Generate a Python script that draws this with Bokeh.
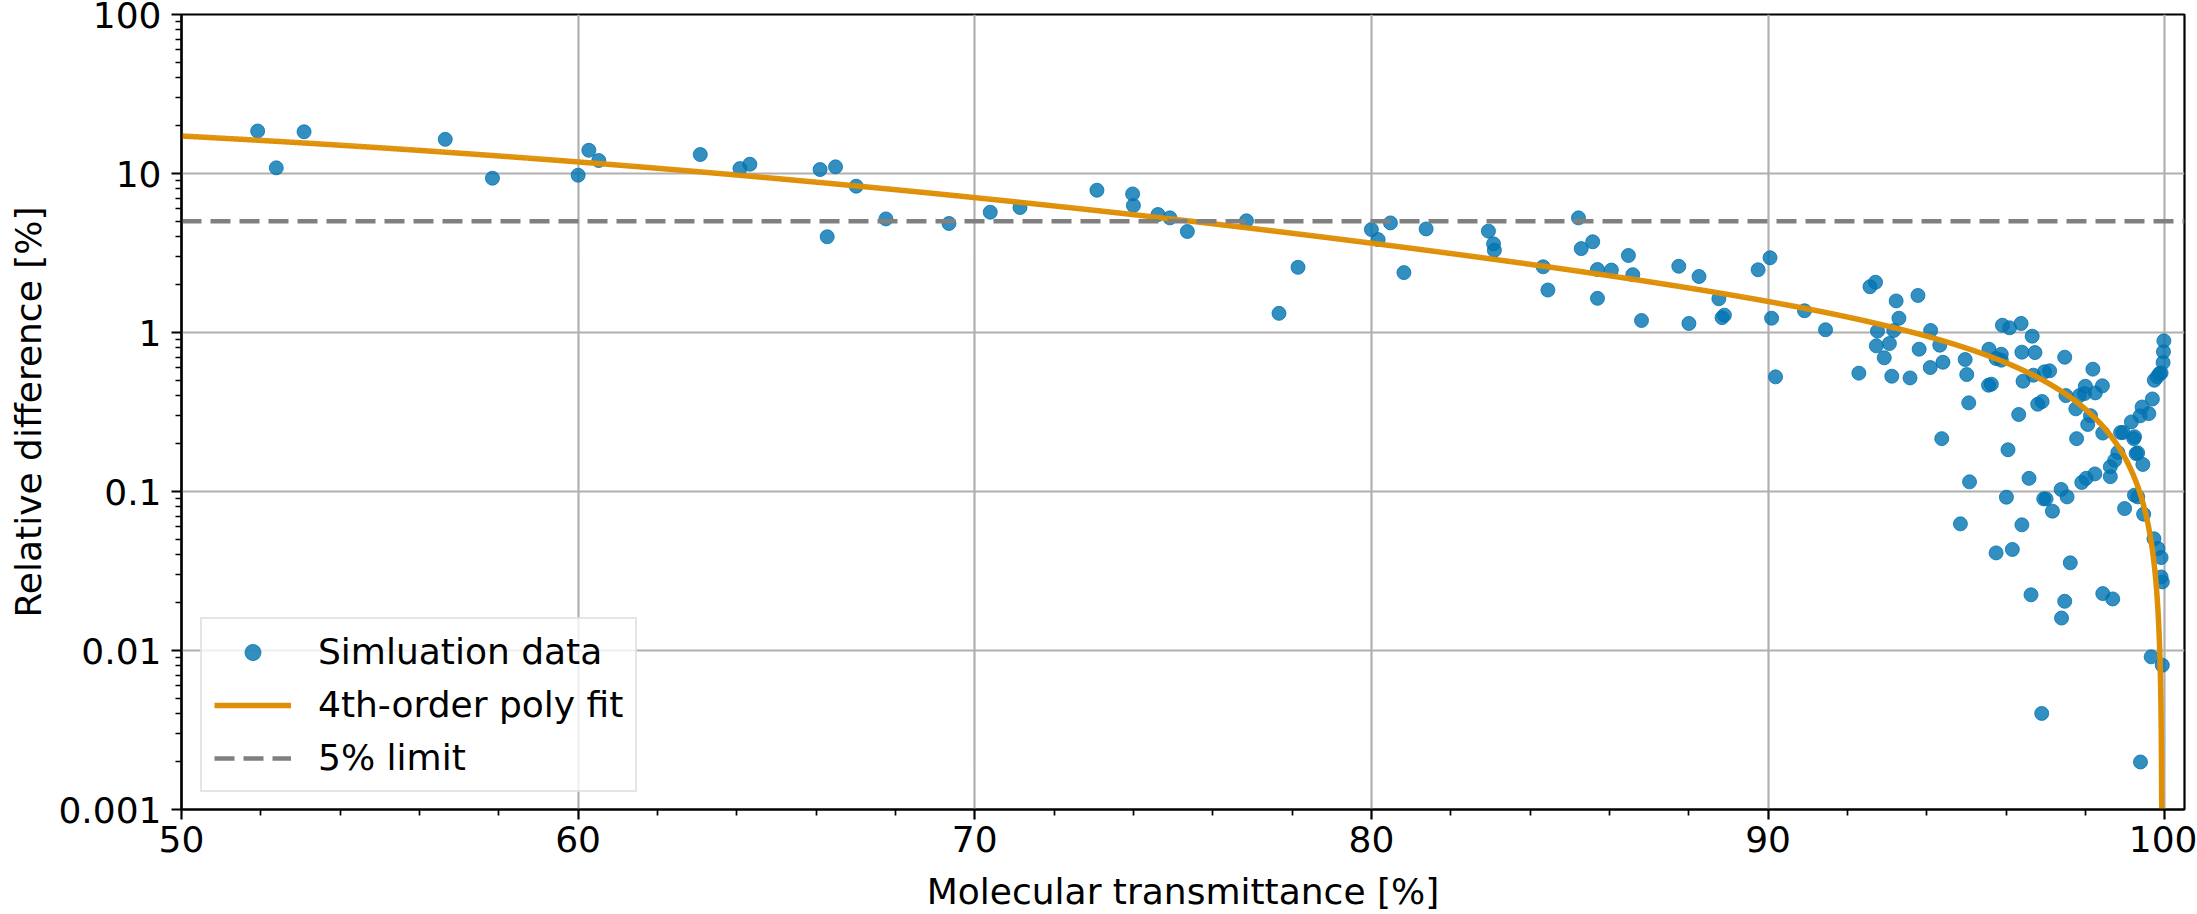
import numpy as np
from bokeh.plotting import figure
from bokeh.models import (Range1d, FixedTicker, CustomJSTickFormatter,
                          Legend, LegendItem)
from bokeh.embed import file_html
from bokeh.resources import INLINE

# Simulation results: molecular transmittance [%] vs relative difference [%]
TRANSMITTANCE = [
    51.92, 52.39, 53.09, 56.65, 57.84, 60.00, 60.27, 60.52,
    63.08, 64.08, 64.33, 66.10, 66.28, 66.49, 67.01, 67.76, 69.35, 70.39,
    71.14, 73.08, 73.98, 74.00, 74.62, 74.92,
    75.36, 76.85, 77.67, 78.15, 80.00, 80.17, 80.48, 80.82, 81.38, 82.95,
    83.08, 83.10, 84.33, 84.45, 85.22, 85.29, 85.58, 85.70, 85.70, 86.05,
    86.48, 86.59, 86.81, 87.75,
    88.005, 88.26, 88.76, 88.84, 88.90, 89.75, 90.05, 90.09, 90.19, 90.92,
    91.45, 92.29, 92.57, 92.71, 92.73, 92.76, 92.93, 93.06, 93.12, 93.17,
    93.23, 93.30, 93.58, 93.78, 93.81, 94.09, 94.10, 94.33, 94.38, 94.41,
    94.85, 94.97, 95.01, 95.06, 95.08, 95.56, 95.57, 95.63, 95.75, 95.75,
    95.88, 95.88, 95.91, 96.01, 96.05, 96.09, 96.16, 96.32, 96.38, 96.40,
    96.40, 96.43, 96.58, 96.63, 96.66, 96.69, 96.73, 96.80, 96.90, 96.91,
    96.95, 96.97, 97.01, 97.10, 97.17, 97.39, 97.40, 97.48, 97.48, 97.51,
    97.54, 97.62, 97.76, 97.78, 97.85, 97.91, 97.98, 98.00, 98.02, 98.06,
    98.13, 98.19, 98.24, 98.25, 98.43, 98.44, 98.44, 98.63, 98.63, 98.69,
    98.74, 98.82, 98.89, 98.95, 98.99, 99.16, 99.22, 99.24, 99.24, 99.28,
    99.32, 99.32, 99.38, 99.39, 99.43, 99.45, 99.47, 99.60, 99.66, 99.69,
    99.73, 99.74, 99.81, 99.83, 99.87, 99.91, 99.91, 99.91, 99.94, 99.94,
    99.96, 99.97, 99.98,
]
REL_DIFF = [
    18.5, 10.85, 18.3, 16.4, 9.34, 9.76, 14.0, 12.07,
    13.16, 10.74, 11.44, 10.59, 4.00, 11.01, 8.32, 5.18, 4.85, 5.71,
    6.11, 7.85, 7.44, 6.29, 5.52, 5.26,
    4.32, 5.04, 1.32, 2.57, 4.44, 3.84, 4.89, 2.38, 4.48, 4.34,
    3.61, 3.29, 2.59, 1.85, 5.26, 3.37, 3.72, 2.49, 1.64, 2.47,
    3.05, 2.31, 1.19, 2.61,
    1.14, 2.25, 1.63, 1.24, 1.285, 2.48, 2.95, 1.23, 0.526, 1.37,
    1.04, 0.555, 1.94, 2.07, 0.824, 1.02, 0.693, 0.852, 0.531, 1.03,
    1.58, 1.23, 0.518, 1.71, 0.785, 0.602, 1.03, 0.832, 0.215, 0.65,
    0.0626, 0.676, 0.544, 0.361, 0.115, 0.466, 0.785, 0.473, 0.686, 0.0411,
    0.73, 0.67, 1.11, 0.0921, 0.183, 1.07, 0.0432, 0.305, 1.14, 0.752,
    0.0617, 0.494, 0.121, 0.0224, 0.948, 0.539, 0.748, 0.354, 0.00402, 0.368,
    0.0899, 0.566, 0.0899, 0.574, 0.0752, 0.103, 0.016, 0.699, 0.0204, 0.401,
    0.0925, 0.0356, 0.331, 0.215, 0.401, 0.114, 0.413, 0.459, 0.121, 0.264,
    0.300, 0.588, 0.129, 0.417, 0.462, 0.233, 0.0228, 0.124, 0.143, 0.0211,
    0.157, 0.176, 0.235, 0.235, 0.0781, 0.274, 0.215, 0.221, 0.0948, 0.173,
    0.175, 0.0925, 0.299, 0.00199, 0.340, 0.148, 0.072, 0.309, 0.00912, 0.382,
    0.0504, 0.501, 0.526, 0.0438, 0.552, 0.557, 0.0384, 0.029, 0.027, 0.00808,
    0.647, 0.756, 0.886,
]

# Fitted-curve values along transmittance (4th-order polynomial trend)
FIT_X = [50.0, 55.0, 60.0, 65.0, 70.0, 75.2, 80.0, 84.3, 87.8, 90.0,
         92.85, 95.4, 97.06, 97.9, 98.74, 99.17, 99.49, 99.68, 99.81, 99.87]
FIT_Y = [17.3, 14.4, 11.9, 9.23, 7.06, 5.09, 3.70, 2.59, 1.94, 1.57,
         1.13, 0.737, 0.489, 0.357, 0.20, 0.118, 0.073, 0.053, 0.028, 0.01]

LIMIT = 5.0          # acceptance limit [%]
FIT_ORDER = 4
XLIM = (50.0, 100.5)
YLIM = (0.001, 100.0)
X_TICKS = [50, 60, 70, 80, 90, 100]
Y_TICKS = [0.001, 0.01, 0.1, 1, 10, 100]

BLUE = "#0173B2"
ORANGE = "#DE8F05"
GREY = "#808080"
FONT = "DejaVu Sans"
FS = "36px"

# 4th-order polynomial through the trend values (relative weighting keeps
# the shape right on the logarithmic axis), evaluated on a dense grid
fx, fy = np.array(FIT_X), np.array(FIT_Y)
coef = np.polyfit(fx, fy, FIT_ORDER, w=1.0 / fy)
xf = np.linspace(XLIM[0], XLIM[1], 40001)
yf = np.polyval(coef, xf)
nonpos = np.nonzero(yf <= 0)[0]
if len(nonpos):
    xf, yf = xf[:nonpos[0] + 1], np.maximum(yf[:nonpos[0] + 1], 1e-6)

p = figure(width=2197, height=914, y_axis_type="log",
           x_range=Range1d(*XLIM), y_range=Range1d(*YLIM),
           output_backend="svg", toolbar_location=None,
           min_border_left=181, min_border_right=13,
           min_border_top=14, min_border_bottom=105)
p.background_fill_color = "white"
p.border_fill_color = "white"
p.outline_line_color = "black"
p.outline_line_width = 2.2

sc = p.scatter(TRANSMITTANCE, REL_DIFF, size=14, fill_color=BLUE,
               line_color=BLUE, fill_alpha=0.8, line_alpha=0.8)
fit = p.line(xf, yf, line_color=ORANGE, line_width=5.5)
lim = p.line(list(XLIM), [LIMIT, LIMIT], line_color=GREY, line_width=4.5,
             line_dash="20 9")

x_minor = [v for v in range(50, 101, 2) if v not in X_TICKS]
y_minor = [m * 10.0 ** e for e in range(-3, 2) for m in range(2, 10)]
xt = FixedTicker(ticks=X_TICKS, minor_ticks=x_minor)
yt = FixedTicker(ticks=Y_TICKS, minor_ticks=y_minor)
p.xaxis.ticker = xt
p.yaxis.ticker = yt
p.xgrid.ticker = xt
p.ygrid.ticker = yt
p.yaxis.formatter = CustomJSTickFormatter(code="return String(tick);")

for g in (p.xgrid, p.ygrid):
    g.grid_line_color = "#b0b0b0"
    g.grid_line_width = 2.2

for ax in (p.xaxis[0], p.yaxis[0]):
    ax.axis_line_width = 2.2
    ax.major_tick_line_width = 2.2
    ax.minor_tick_line_width = 1.7
    ax.major_tick_in = 0
    ax.major_tick_out = 10
    ax.minor_tick_in = 0
    ax.minor_tick_out = 6
    ax.major_label_text_font = FONT
    ax.major_label_text_font_size = FS
    ax.major_label_text_color = "black"
    ax.axis_label_text_font = FONT
    ax.axis_label_text_font_size = FS
    ax.axis_label_text_font_style = "normal"
    ax.axis_label_text_color = "black"

p.xaxis.axis_label = "Molecular transmittance [%]"
p.yaxis.axis_label = "Relative difference [%]"
p.xaxis.major_label_standoff = 6
p.xaxis.axis_label_standoff = 16
p.yaxis.major_label_standoff = 10
p.yaxis.axis_label_standoff = 6

legend = Legend(items=[
    LegendItem(label="Simluation data", renderers=[sc]),
    LegendItem(label=f"{FIT_ORDER}th-order poly fit", renderers=[fit]),
    LegendItem(label=f"{LIMIT:g}% limit", renderers=[lim]),
], location=(19, 17))
legend.margin = 0
legend.padding = 12
legend.spacing = 12
legend.glyph_width = 77
legend.glyph_height = 40
legend.label_height = 40
legend.label_standoff = 27
legend.label_text_font = FONT
legend.label_text_font_size = FS
legend.label_text_color = "black"
legend.border_line_color = "#cccccc"
legend.border_line_width = 2.2
legend.background_fill_color = "white"
legend.background_fill_alpha = 0.8
p.add_layout(legend)

open("out.html", "w").write(file_html(p, INLINE))
